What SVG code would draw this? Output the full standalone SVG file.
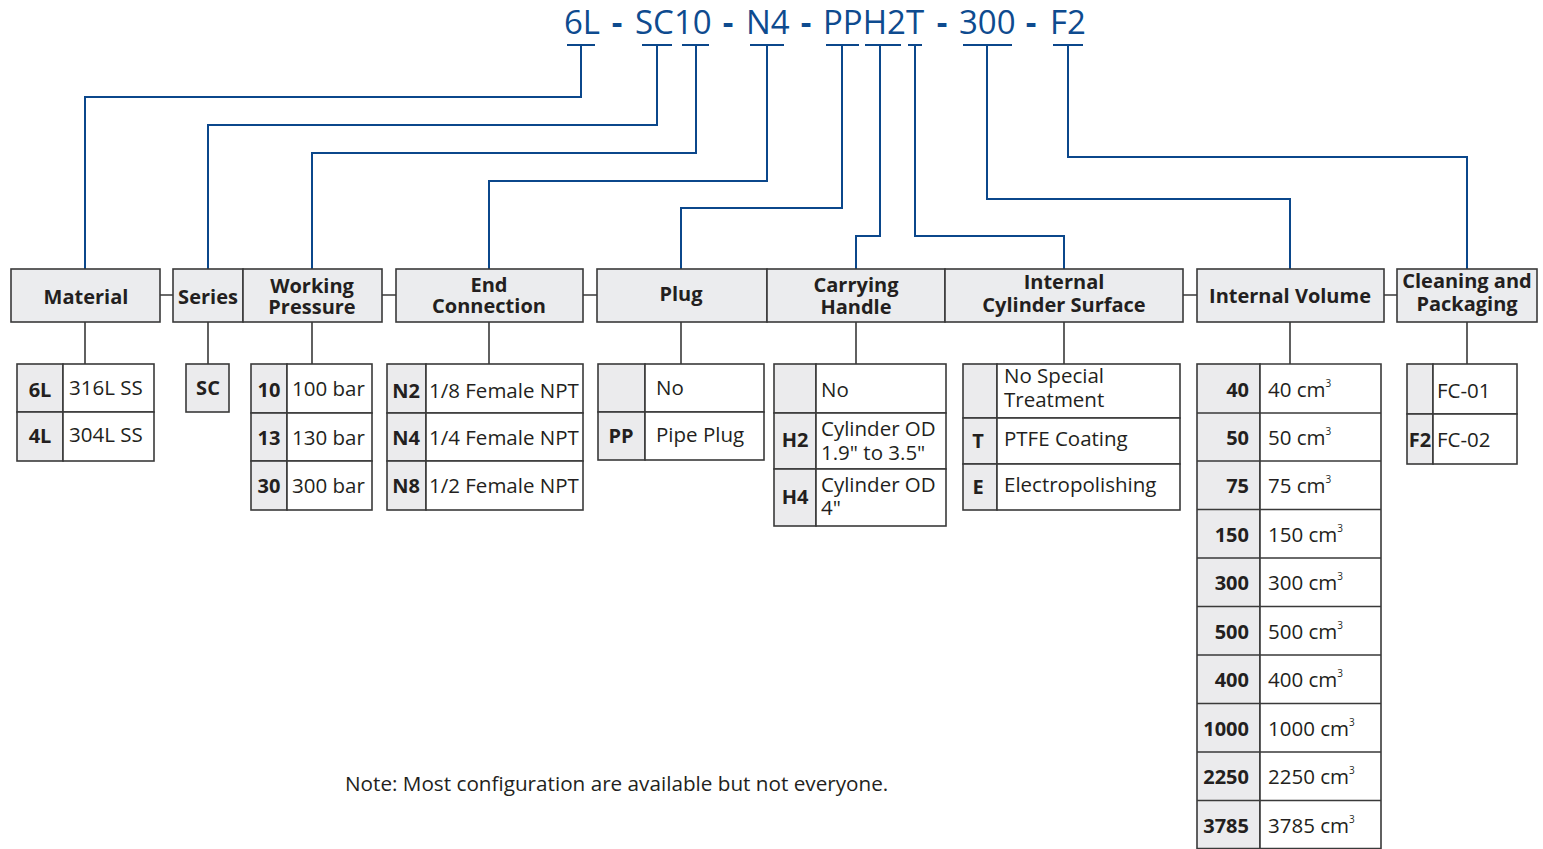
<svg xmlns="http://www.w3.org/2000/svg" width="1543" height="849" viewBox="0 0 1543 849">
<style>
text{font-family:"Open Sans","Liberation Sans",sans-serif;fill:#231f20}
.title{font-size:33px;fill:#0e4b8f}
.dash{font-size:33px;fill:#0e4b8f;font-weight:700;text-anchor:middle}
.hd{font-size:20px;font-weight:700;text-anchor:middle}
.hbox{fill:#ebecee;stroke:#3a3a3a;stroke-width:1.6}
.cell{fill:#ffffff;stroke:#3a3a3a;stroke-width:1.6}
.code{fill:#ebebed;stroke:#3a3a3a;stroke-width:1.6}
.cd{font-size:20px;font-weight:700;text-anchor:middle}
.cdr{font-size:20px;font-weight:700;text-anchor:end}
.tx{font-size:20.5px}
.sup{font-size:10px}
.con{fill:none;stroke:#0b478b;stroke-width:2}
.lnk{fill:none;stroke:#3a3a3a;stroke-width:1.6}
.note{font-size:20.7px}
</style>
<g id="title">
<text class="title" x="564" y="34">6L</text>
<text class="dash" x="617" y="34">-</text>
<text class="title" x="635" y="34">SC10</text>
<text class="dash" x="728" y="34">-</text>
<text class="title" x="746" y="34">N4</text>
<text class="dash" x="806" y="34">-</text>
<text class="title" x="823" y="34">PPH2T</text>
<text class="dash" x="942" y="34">-</text>
<text class="title" x="959" y="34">300</text>
<text class="dash" x="1031" y="34">-</text>
<text class="title" x="1050" y="34">F2</text>
</g>
<g id="connectors">
<path class="con" d="M567 45H595M581 45V97H85V269"/>
<path class="con" d="M642 45H672M657 45V125H208V269"/>
<path class="con" d="M682 45H709M696 45V153H312V269"/>
<path class="con" d="M750 45H784M767 45V181H489V269"/>
<path class="con" d="M826 45H859M842 45V208H681V269"/>
<path class="con" d="M865 45H901M880 45V236H856V269"/>
<path class="con" d="M908 45H922M915 45V236H1064V269"/>
<path class="con" d="M963 45H1012M987 45V199H1290V269"/>
<path class="con" d="M1053 45H1083M1068 45V157H1467V269"/>
<path class="lnk" d="M160 295H173M382 295H396M583 295H597M1183 295H1197M1384 295H1397"/>
<path class="lnk" d="M85 322V364M208 322V364M312 322V364M489 322V364M681 322V364M856 322V364M1064 322V364M1290 322V364M1467 322V364"/>
</g>
<g id="material">
<rect class="hbox" x="11" y="269" width="149" height="53"/>
<text class="hd" x="86" y="304">Material</text>
<rect class="code" x="17" y="364" width="46" height="48"/>
<rect class="cell" x="63" y="364" width="91" height="48"/>
<rect class="code" x="17" y="412" width="46" height="49"/>
<rect class="cell" x="63" y="412" width="91" height="49"/>
<text class="cd" x="40" y="397">6L</text><text class="tx" x="69" y="395">316L SS</text>
<text class="cd" x="40" y="443">4L</text><text class="tx" x="69" y="442">304L SS</text>
</g>
<g id="series">
<rect class="hbox" x="173" y="269" width="70" height="53"/>
<text class="hd" x="208" y="304">Series</text>
<rect class="code" x="186" y="364" width="43" height="48"/>
<text class="cd" x="208" y="395">SC</text>
</g>
<g id="working-pressure">
<rect class="hbox" x="243" y="269" width="139" height="53"/>
<text class="hd" x="312" y="293">Working<tspan x="312" dy="21">Pressure</tspan></text>
<rect class="code" x="251" y="364" width="36" height="49"/><rect class="cell" x="287" y="364" width="85" height="49"/>
<rect class="code" x="251" y="413" width="36" height="48"/><rect class="cell" x="287" y="413" width="85" height="48"/>
<rect class="code" x="251" y="461" width="36" height="49"/><rect class="cell" x="287" y="461" width="85" height="49"/>
<text class="cd" x="269" y="397">10</text><text class="tx" x="292" y="396">100 bar</text>
<text class="cd" x="269" y="445">13</text><text class="tx" x="292" y="445">130 bar</text>
<text class="cd" x="269" y="493">30</text><text class="tx" x="292" y="493">300 bar</text>
</g>
<g id="end-connection">
<rect class="hbox" x="396" y="269" width="187" height="53"/>
<text class="hd" x="489" y="292">End<tspan x="489" dy="21">Connection</tspan></text>
<rect class="code" x="387" y="364" width="39" height="49"/><rect class="cell" x="426" y="364" width="157" height="49"/>
<rect class="code" x="387" y="413" width="39" height="48"/><rect class="cell" x="426" y="413" width="157" height="48"/>
<rect class="code" x="387" y="461" width="39" height="49"/><rect class="cell" x="426" y="461" width="157" height="49"/>
<text class="cd" x="406" y="398">N2</text><text class="tx" x="429" y="398">1/8 Female NPT</text>
<text class="cd" x="406" y="445">N4</text><text class="tx" x="429" y="445">1/4 Female NPT</text>
<text class="cd" x="406" y="493">N8</text><text class="tx" x="429" y="493">1/2 Female NPT</text>
</g>
<g id="plug">
<rect class="hbox" x="597" y="269" width="170" height="53"/>
<text class="hd" x="681" y="301">Plug</text>
<rect class="code" x="598" y="364" width="47" height="48"/><rect class="cell" x="645" y="364" width="119" height="48"/>
<rect class="code" x="598" y="412" width="47" height="48"/><rect class="cell" x="645" y="412" width="119" height="48"/>
<text class="tx" x="656" y="395">No</text>
<text class="cd" x="621" y="443">PP</text><text class="tx" x="656" y="442">Pipe Plug</text>
</g>
<g id="carrying-handle">
<rect class="hbox" x="767" y="269" width="178" height="53"/>
<text class="hd" x="856" y="292">Carrying<tspan x="856" dy="22">Handle</tspan></text>
<rect class="code" x="774" y="364" width="42" height="49"/><rect class="cell" x="816" y="364" width="130" height="49"/>
<rect class="code" x="774" y="413" width="42" height="56"/><rect class="cell" x="816" y="413" width="130" height="56"/>
<rect class="code" x="774" y="469" width="42" height="57"/><rect class="cell" x="816" y="469" width="130" height="57"/>
<text class="tx" x="821" y="397">No</text>
<text class="cd" x="795" y="447">H2</text>
<text class="tx" x="821" y="436">Cylinder OD<tspan x="821" dy="24">1.9" to 3.5"</tspan></text>
<text class="cd" x="795" y="504">H4</text>
<text class="tx" x="821" y="492">Cylinder OD<tspan x="821" dy="23">4"</tspan></text>
</g>
<g id="internal-cylinder-surface">
<rect class="hbox" x="945" y="269" width="238" height="53"/>
<text class="hd" x="1064" y="289">Internal<tspan x="1064" dy="23">Cylinder Surface</tspan></text>
<rect class="code" x="963" y="364" width="34" height="54"/><rect class="cell" x="997" y="364" width="183" height="54"/>
<rect class="code" x="963" y="418" width="34" height="46"/><rect class="cell" x="997" y="418" width="183" height="46"/>
<rect class="code" x="963" y="464" width="34" height="46"/><rect class="cell" x="997" y="464" width="183" height="46"/>
<text class="tx" x="1004" y="383">No Special<tspan x="1004" dy="24">Treatment</tspan></text>
<text class="cd" x="978" y="448">T</text><text class="tx" x="1004" y="446">PTFE Coating</text>
<text class="cd" x="978" y="494">E</text><text class="tx" x="1004" y="492">Electropolishing</text>
</g>
<g id="internal-volume">
<rect class="hbox" x="1197" y="269" width="187" height="53"/>
<text class="hd" x="1290" y="303">Internal Volume</text>
<rect class="code" x="1197" y="364" width="63" height="486"/>
<path class="cell" d="M1260 364H1381V850H1260Z"/>
<path class="lnk" d="M1197 413H1381M1197 461H1381M1197 509.5H1381M1197 558H1381M1197 606.5H1381M1197 655H1381M1197 703.5H1381M1197 752H1381M1197 800.5H1381M1197 848.5H1381"/>
<text class="cdr" x="1249" y="397">40</text><text class="tx" x="1268" y="397">40 cm<tspan class="sup" dy="-10">3</tspan></text>
<text class="cdr" x="1249" y="445">50</text><text class="tx" x="1268" y="445">50 cm<tspan class="sup" dy="-10">3</tspan></text>
<text class="cdr" x="1249" y="493">75</text><text class="tx" x="1268" y="493">75 cm<tspan class="sup" dy="-10">3</tspan></text>
<text class="cdr" x="1249" y="542">150</text><text class="tx" x="1268" y="542">150 cm<tspan class="sup" dy="-10">3</tspan></text>
<text class="cdr" x="1249" y="590">300</text><text class="tx" x="1268" y="590">300 cm<tspan class="sup" dy="-10">3</tspan></text>
<text class="cdr" x="1249" y="639">500</text><text class="tx" x="1268" y="639">500 cm<tspan class="sup" dy="-10">3</tspan></text>
<text class="cdr" x="1249" y="687">400</text><text class="tx" x="1268" y="687">400 cm<tspan class="sup" dy="-10">3</tspan></text>
<text class="cdr" x="1249" y="736">1000</text><text class="tx" x="1268" y="736">1000 cm<tspan class="sup" dy="-10">3</tspan></text>
<text class="cdr" x="1249" y="784">2250</text><text class="tx" x="1268" y="784">2250 cm<tspan class="sup" dy="-10">3</tspan></text>
<text class="cdr" x="1249" y="833">3785</text><text class="tx" x="1268" y="833">3785 cm<tspan class="sup" dy="-10">3</tspan></text>
</g>
<g id="cleaning-packaging">
<rect class="hbox" x="1397" y="269" width="140" height="53"/>
<text class="hd" x="1467" y="288">Cleaning and<tspan x="1467" dy="23">Packaging</tspan></text>
<rect class="code" x="1407" y="364" width="26" height="50"/><rect class="cell" x="1433" y="364" width="84" height="50"/>
<rect class="code" x="1407" y="414" width="26" height="50"/><rect class="cell" x="1433" y="414" width="84" height="50"/>
<text class="tx" x="1437" y="398">FC-01</text>
<text class="cd" x="1420" y="447">F2</text><text class="tx" x="1437" y="447">FC-02</text>
</g>
<text class="note" x="345" y="791">Note: Most configuration are available but not everyone.</text>
</svg>
